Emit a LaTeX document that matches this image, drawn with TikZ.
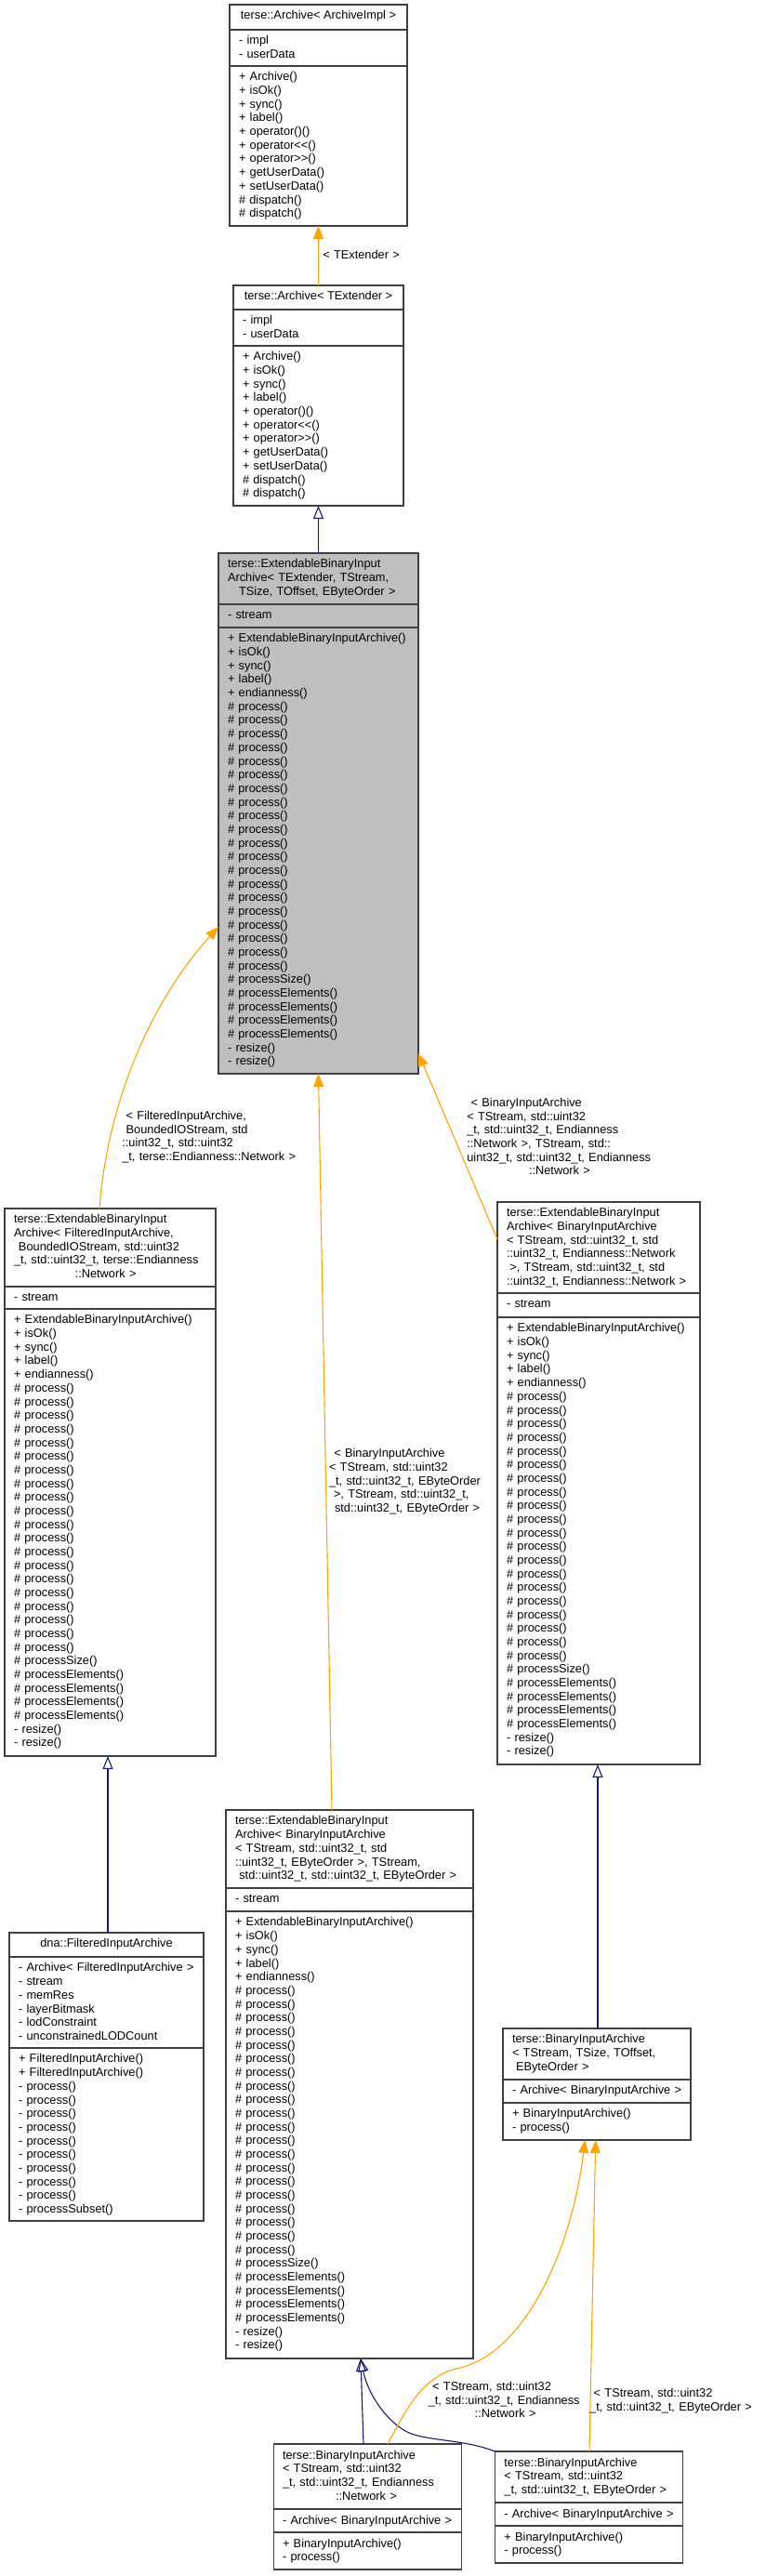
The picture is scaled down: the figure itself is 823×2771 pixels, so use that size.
\documentclass[tikz,border=0pt]{standalone}
\usepackage{fontspec}
\setmainfont{Liberation Sans}
\usetikzlibrary{arrows.meta}
\definecolor{tmplc}{HTML}{FFA500}
\definecolor{inhc}{HTML}{191970}
\definecolor{bordc}{HTML}{404040}
\definecolor{grayfill}{HTML}{BFBFBF}
\newcommand\dfont{\fontsize{12.8}{14.67}\selectfont}
\newcommand\prc{\# process()\\}
\newcommand\fprc{- process()\\}
\newcommand\ebiam{\strut+ ExtendableBinaryInputArchive()\\+ isOk()\\+ sync()\\+ label()\\+ endianness()\\\prc\prc\prc\prc\prc\prc\prc\prc\prc\prc\prc\prc\prc\prc\prc\prc\prc\prc\prc\prc\# processSize()\\\# processElements()\\\# processElements()\\\# processElements()\\\# processElements()\\- resize()\\- resize()}
\newcommand\archm{\strut+ Archive()\\+ isOk()\\+ sync()\\+ label()\\+ operator()()\\+ operator<\kern0pt<()\\+ operator>\kern0pt>()\\+ getUserData()\\+ setUserData()\\\# dispatch()\\\# dispatch()}
\newcommand\cbox[8]{%
  \node[frame, fill=#8, minimum width={(#3)-(#2)}, minimum height={(#7)-(#4)}] (#1) at (#2,#4) {};
  \draw[sepl] (#2,#5) -- (#3,#5);
  \draw[sepl] (#2,#6) -- (#3,#6);
}
\tikzset{
  frame/.style={draw=bordc, line width=1.3pt, inner sep=0pt, outer sep=0pt, anchor=north west},
  sepl/.style={draw=bordc, line width=1.3pt},
  txt/.style={inner sep=0pt, outer sep=0pt, align=left, text width=330pt, font=\dfont, anchor=north west},
  txtc/.style={inner sep=0pt, outer sep=0pt, align=center, font=\dfont, anchor=north},
  tmpl/.style={draw=tmplc, line width=1.1pt, -{Triangle[length=14pt,width=11pt]}},
  inh/.style={draw=inhc, line width=1.1pt, -{Triangle[open,length=14pt,width=11pt]}},
}
\begin{document}
\begin{tikzpicture}[x=1pt,y=-1pt]
\path[use as bounding box, fill=white] (0,0) rectangle (823,2771);

% B1
\cbox{b1}{247}{438}{5}{32}{71}{243}{white}
\node[txtc] (b1t) at (342.5,10.7) {\strut terse::Archive< ArchiveImpl >};
\node[txt] (b1a) at (257,37.4) {\strut- impl\\- userData};
\node[txt] (b1m) at (257,76.7) {\archm};

% B2
\cbox{b2}{251}{434}{307}{333}{372}{544}{white}
\node[txtc] (b2t) at (342.5,312.7) {\strut terse::Archive< TExtender >};
\node[txt] (b2a) at (261,338.7) {\strut- impl\\- userData};
\node[txt] (b2m) at (261,377.7) {\archm};

% B3
\cbox{b3}{235}{450}{595}{650}{675}{1155}{grayfill}
\node[txt] (b3t) at (245,600.7) {\strut terse::ExtendableBinaryInput\\Archive< TExtender, TStream,\\\hspace*{12pt}TSize, TOffset, EByteOrder >};
\node[txt] (b3a) at (245,655.7) {\strut- stream};
\node[txt] (b3m) at (245,680.7) {\ebiam};

% B4
\cbox{b4}{5}{232}{1300}{1384}{1408}{1889}{white}
\node[txt] (b4t) at (15,1305.7) {\strut terse::ExtendableBinaryInput\\Archive< FilteredInputArchive,\\\hspace*{5pt}BoundedIOStream, std::uint32\\\_t, std::uint32\_t, terse::Endianness\\\hspace*{65.7pt}::Network >};
\node[txt] (b4a) at (15,1389.7) {\strut- stream};
\node[txt] (b4m) at (15,1413.7) {\ebiam};

% B5
\cbox{b5}{535}{753}{1293}{1391}{1417}{1898}{white}
\node[txt] (b5t) at (545,1298.7) {\strut terse::ExtendableBinaryInput\\Archive< BinaryInputArchive\\< TStream, std::uint32\_t, std\\::uint32\_t, Endianness::Network\\\hspace*{3.3pt}>, TStream, std::uint32\_t, std\\::uint32\_t, Endianness::Network >};
\node[txt] (b5a) at (545,1396.7) {\strut- stream};
\node[txt] (b5m) at (545,1422.7) {\ebiam};

% B6
\cbox{b6}{10}{219}{2079}{2105}{2203}{2389}{white}
\node[txtc] (b6t) at (114.5,2084.7) {\strut dna::FilteredInputArchive};
\node[txt] (b6a) at (20,2110.7) {\strut- Archive< FilteredInputArchive >\\- stream\\- memRes\\- layerBitmask\\- lodConstraint\\- unconstrainedLODCount};
\node[txt] (b6m) at (20,2208.7) {\strut+ FilteredInputArchive()\\+ FilteredInputArchive()\\\fprc\fprc\fprc\fprc\fprc\fprc\fprc\fprc\fprc- processSubset()};

% B7
\cbox{b7}{243}{509}{1947}{2031}{2056}{2537}{white}
\node[txt] (b7t) at (253,1952.7) {\strut terse::ExtendableBinaryInput\\Archive< BinaryInputArchive\\< TStream, std::uint32\_t, std\\::uint32\_t, EByteOrder >, TStream,\\\hspace*{4.3pt}std::uint32\_t, std::uint32\_t, EByteOrder >};
\node[txt] (b7a) at (253,2036.7) {\strut- stream};
\node[txt] (b7m) at (253,2061.7) {\ebiam};

% B8
\cbox{b8}{541}{743}{2182}{2237}{2262}{2302}{white}
\node[txt] (b8t) at (551,2187.7) {\strut terse::BinaryInputArchive\\< TStream, TSize, TOffset,\\\hspace*{4pt}EByteOrder >};
\node[txt] (b8a) at (551,2242.7) {\strut- Archive< BinaryInputArchive >};
\node[txt] (b8m) at (551,2267.7) {\strut+ BinaryInputArchive()\\- process()};

% B9
\cbox{b9}{294.5}{496.6}{2629}{2699}{2724}{2764}{white}
\node[txt] (b9t) at (304,2634.7) {\strut terse::BinaryInputArchive\\< TStream, std::uint32\\\_t, std::uint32\_t, Endianness\\\hspace*{57pt}::Network >};
\node[txt] (b9a) at (304,2704.7) {\strut- Archive< BinaryInputArchive >};
\node[txt] (b9m) at (304,2729.7) {\strut+ BinaryInputArchive()\\- process()};

% B10
\cbox{b10}{532.4}{734.5}{2637}{2692}{2717}{2757}{white}
\node[txt] (b10t) at (542.4,2642.7) {\strut terse::BinaryInputArchive\\< TStream, std::uint32\\\_t, std::uint32\_t, EByteOrder >};
\node[txt] (b10a) at (542.4,2697.7) {\strut- Archive< BinaryInputArchive >};
\node[txt] (b10m) at (542.4,2722.7) {\strut+ BinaryInputArchive()\\- process()};

% edges
\draw[tmpl] (b2.north) -- (b1.south);
\draw[inh] (b3.north) -- (b2.south);
\draw[tmpl] ([xshift=102pt]b4.north west) .. controls (115,1190) and (160,1080) .. (b3.west |- 0,997);
\draw[tmpl] ([xshift=114pt]b7.north west) -- (b3.south);
\draw[tmpl] (b5.west |- 0,1333) -- (b3.east |- 0,1133);
\draw[inh] (b6.north -| 116,0) -- (b4.south -| 116,0);
\draw[inh] (b8.north -| 643,0) -- (b5.south -| 643,0);
\draw[inh] (b9.north -| 391,0) -- (b7.south -| 388,0);
\draw[inh] (b10.north west) .. controls (500,2624) and (462,2626) .. (440,2617) .. controls (418,2607) and (396,2577) .. (b7.south -| 388,0);
\draw[tmpl] ([xshift=101.6pt]b10.north west) -- ([xshift=99.7pt]b8.south west);
\draw[tmpl] ([xshift=122.5pt]b9.north west) .. controls (438,2590) and (455,2555) .. (495,2547) .. controls (565,2530) and (615,2420) .. ([xshift=88.3pt]b8.south west);

% edge labels
\node[txt] (l1) at (347.3,268.6) {\strut< TExtender >};
\node[txt] (l2) at (131.3,1194.3) {\strut\hspace*{4.4pt}< FilteredInputArchive,\\\hspace*{4.4pt}BoundedIOStream, std\\::uint32\_t, std::uint32\\\_t, terse::Endianness::Network >};
\node[txt] (l3) at (502.3,1180.3) {\strut\hspace*{4.4pt}< BinaryInputArchive\\< TStream, std::uint32\\\_t, std::uint32\_t, Endianness\\::Network >, TStream, std::\\uint32\_t, std::uint32\_t, Endianness\\\hspace*{66.7pt}::Network >};
\node[txt] (l4) at (354,1557.6) {\strut\hspace*{5.3pt}< BinaryInputArchive\\< TStream, std::uint32\\\_t, std::uint32\_t, EByteOrder\\\hspace*{5pt}>, TStream, std::uint32\_t,\\\hspace*{6pt}std::uint32\_t, EByteOrder >};
\node[txt] (l5) at (460.7,2561.3) {\strut\hspace*{4.5pt}< TStream, std::uint32\\\_t, std::uint32\_t, Endianness\\\hspace*{50pt}::Network >};
\node[txt] (l6) at (634.2,2568.6) {\strut\hspace*{4.5pt}< TStream, std::uint32\\\_t, std::uint32\_t, EByteOrder >};
\end{tikzpicture}
\end{document}
